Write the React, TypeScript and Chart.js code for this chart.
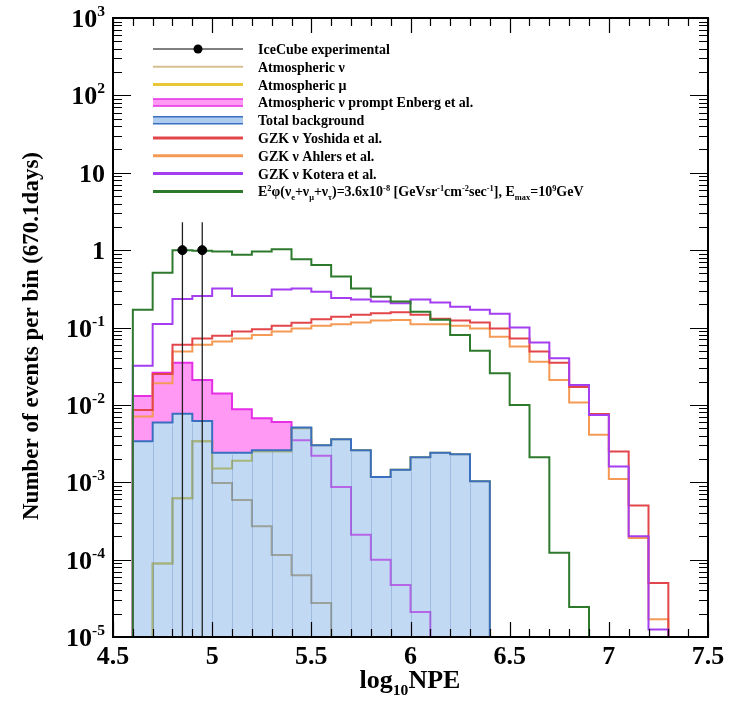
import { useEffect, useRef } from 'react';
import { Chart, registerables } from 'chart.js';

Chart.register(...registerables);

// Lower edges of the log10(NPE) bins (width 0.1)
const BIN_LOW = [
  4.5, 4.6, 4.7, 4.8, 4.9, 5.0, 5.1, 5.2, 5.3, 5.4,
  5.5, 5.6, 5.7, 5.8, 5.9, 6.0, 6.1, 6.2, 6.3, 6.4,
  6.5, 6.6, 6.7, 6.8, 6.9, 7.0, 7.1, 7.2, 7.3, 7.4,
];
const BIN_WIDTH = 0.1;

// Events per bin (670.1 days); 0 = empty bin
const E2_FLUX = [0, 0.17, 0.51, 1.0, 0.98, 0.96, 0.87, 0.96, 1.03, 0.76, 0.64, 0.455, 0.32, 0.25, 0.216, 0.16, 0.126, 0.08, 0.05, 0.0256, 0.01, 0.0021, 1.23e-4, 2.45e-5, 0, 0, 0, 0, 0, 0];
const GZK_KOTERA = [0, 0.032, 0.111, 0.234, 0.256, 0.32, 0.256, 0.256, 0.31, 0.32, 0.29, 0.24, 0.23, 0.216, 0.206, 0.23, 0.21, 0.186, 0.17, 0.15, 0.1, 0.064, 0.04, 0.018, 0.0074, 0.0016, 2.0e-4, 1.25e-5, 0, 0];
const GZK_YOSHIDA = [0, 0.0086, 0.025, 0.06, 0.072, 0.078, 0.089, 0.095, 0.105, 0.115, 0.128, 0.138, 0.146, 0.153, 0.157, 0.146, 0.13, 0.123, 0.116, 0.097, 0.072, 0.049, 0.035, 0.017, 0.0076, 0.0025, 5.0e-4, 5.0e-5, 0, 0];
const GZK_AHLERS = [0, 0.0071, 0.019, 0.049, 0.06, 0.066, 0.072, 0.08, 0.089, 0.097, 0.105, 0.11, 0.116, 0.123, 0.125, 0.11, 0.11, 0.105, 0.097, 0.076, 0.057, 0.036, 0.021, 0.0107, 0.0041, 0.0011, 1.9e-4, 1.7e-5, 0, 0];
const ATM_PROMPT = [0, 0.013, 0.026, 0.035, 0.021, 0.014, 0.0088, 0.0067, 0.006, 0.0035, 0.0022, 8.7e-4, 2.1e-4, 1.0e-4, 4.7e-5, 2.1e-5, 0, 0, 0, 0, 0, 0, 0, 0, 0, 0, 0, 0, 0, 0];
const TOTAL_BG = [0, 0.0034, 0.0059, 0.0077, 0.0062, 0.0024, 0.0024, 0.0026, 0.0026, 0.0051, 0.003, 0.0036, 0.0026, 0.00117, 0.00145, 0.0021, 0.0024, 0.0023, 0.00103, 0, 0, 0, 0, 0, 0, 0, 0, 0, 0, 0];
const ATM_NU = [0, 0, 8.9e-5, 6.2e-4, 0.0034, 9.8e-4, 5.9e-4, 2.7e-4, 1.15e-4, 6.3e-5, 2.75e-5, 0, 0, 0, 0, 0, 0, 0, 0, 0, 0, 0, 0, 0, 0, 0, 0, 0, 0, 0];
const ATM_MU = [0, 0, 8.9e-5, 6.2e-4, 0.0034, 0.0015, 0.0019, 0.0025, 0.0025, 0.005, 0.003, 0.0036, 0.0026, 0.00117, 0.00145, 0.0021, 0.0024, 0.0023, 0.00103, 0, 0, 0, 0, 0, 0, 0, 0, 0, 0, 0];

// Observed events with upper error
const DATA_X = [4.85, 4.95];
const DATA_Y = [1, 1];
const DATA_HI = [2.3, 2.3];

// Axis ticks
const X_TICKS = [4.5, 5, 5.5, 6, 6.5, 7, 7.5];
const X_TICK_LABELS = ['4.5', '5', '5.5', '6', '6.5', '7', '7.5'];
const Y_EXPONENTS = [3, 2, 1, 0, -1, -2, -3, -4, -5];

const X_MIN = 4.5;
const X_MAX = 7.5;
const Y_MIN = 1e-5;
const Y_MAX = 1e3;
const FLOOR = 1e-7;

const FONT = '"Liberation Serif", "Times New Roman", serif';

const C_GREEN = '#2d7a2d';
const C_PURPLE = '#a43ef0';
const C_RED = '#e3464a';
const C_ORANGE = '#f59a55';
const C_BLUE = '#3a6fc0';
const C_BLUE_FILL = 'rgba(120,170,230,0.45)';
const C_MAGENTA = '#e62ee6';
const C_PINK = 'rgba(255,110,240,0.7)';
const C_MU = '#cfc020';
const C_NU = '#b89a5e';

type Seg = [string, 'n' | 'sup' | 'sub'];

type LegendItem = {
  label: Seg[];
  kind: 'marker' | 'line' | 'band';
  color: string;
  fill?: string;
  width?: number;
};

const LEGEND: LegendItem[] = [
  { label: [['IceCube experimental', 'n']], kind: 'marker', color: '#000' },
  { label: [['Atmospheric ν', 'n']], kind: 'line', color: '#d6bf90', width: 2 },
  { label: [['Atmospheric μ', 'n']], kind: 'line', color: '#e8c838', width: 3 },
  { label: [['Atmospheric ν prompt Enberg et al.', 'n']], kind: 'band', color: C_MAGENTA, fill: C_PINK },
  { label: [['Total background', 'n']], kind: 'band', color: C_BLUE, fill: 'rgba(120,170,230,0.6)' },
  { label: [['GZK ν Yoshida et al.', 'n']], kind: 'line', color: C_RED, width: 3 },
  { label: [['GZK ν Ahlers et al.', 'n']], kind: 'line', color: C_ORANGE, width: 3 },
  { label: [['GZK ν Kotera et al.', 'n']], kind: 'line', color: C_PURPLE, width: 3 },
  {
    label: [
      ['E', 'n'], ['2', 'sup'], ['φ(ν', 'n'], ['e', 'sub'], ['+ν', 'n'], ['μ', 'sub'], ['+ν', 'n'], ['τ', 'sub'],
      [')=3.6x10', 'n'], ['-8', 'sup'], [' [GeVsr', 'n'], ['-1', 'sup'], ['cm', 'n'], ['-2', 'sup'],
      ['sec', 'n'], ['-1', 'sup'], ['], E', 'n'], ['max', 'sub'], ['=10', 'n'], ['9', 'sup'], ['GeV', 'n'],
    ],
    kind: 'line', color: C_GREEN, width: 3,
  },
];

function histPoints(vals: number[]) {
  const pts = vals.map((v, i) => ({ x: BIN_LOW[i], y: v > 0 ? v : FLOOR }));
  pts.push({ x: BIN_LOW[BIN_LOW.length - 1] + BIN_WIDTH, y: FLOOR });
  return pts;
}

function drawRich(ctx: CanvasRenderingContext2D, segs: Seg[], x: number, y: number, size: number, align: 'left' | 'right' | 'center') {
  const small = size * 0.6;
  const widths = segs.map(([t, k]) => {
    ctx.font = `bold ${k === 'n' ? size : small}px ${FONT}`;
    return ctx.measureText(t).width;
  });
  const total = widths.reduce((a, b) => a + b, 0);
  let cx = align === 'left' ? x : align === 'right' ? x - total : x - total / 2;
  ctx.textAlign = 'left';
  ctx.textBaseline = 'alphabetic';
  segs.forEach(([t, k], i) => {
    ctx.font = `bold ${k === 'n' ? size : small}px ${FONT}`;
    const dy = k === 'sup' ? -size * 0.42 : k === 'sub' ? size * 0.28 : 0;
    ctx.fillText(t, cx, y + dy);
    cx += widths[i];
  });
}

const TOTAL_INDEX = 7;

// Faint vertical strokes inside the filled total-background histogram
const hatchPlugin = {
  id: 'bgHatch',
  afterDatasetDraw(chart: any, args: any) {
    if (args.index !== TOTAL_INDEX) return;
    const { ctx, chartArea: a, scales } = chart;
    ctx.save();
    ctx.beginPath();
    ctx.rect(a.left, a.top, a.right - a.left, a.bottom - a.top);
    ctx.clip();
    ctx.strokeStyle = 'rgba(70,110,180,0.28)';
    ctx.lineWidth = 1;
    for (let i = 1; i < TOTAL_BG.length; i++) {
      const lo = Math.min(TOTAL_BG[i - 1], TOTAL_BG[i]);
      if (lo <= 0) continue;
      const px = Math.round(scales.x.getPixelForValue(BIN_LOW[i])) + 0.5;
      ctx.beginPath();
      ctx.moveTo(px, a.bottom);
      ctx.lineTo(px, scales.y.getPixelForValue(lo) + 2);
      ctx.stroke();
    }
    ctx.restore();
  },
};

// Frame, inward ticks on all four sides, tick labels, axis titles and legend
const framePlugin = {
  id: 'frameAxes',
  afterDraw(chart: any) {
    const { ctx, chartArea: a, scales } = chart;
    const sx = scales.x;
    const sy = scales.y;
    ctx.save();
    ctx.strokeStyle = '#000';
    ctx.fillStyle = '#000';
    ctx.lineWidth = 1.2;

    // x ticks every 0.1, major every 0.5
    for (let k = 0; k <= 30; k++) {
      const v = X_MIN + k * 0.1;
      const px = Math.round(sx.getPixelForValue(v)) + 0.5;
      const len = k % 5 === 0 ? 15 : 8;
      ctx.beginPath();
      ctx.moveTo(px, a.bottom);
      ctx.lineTo(px, a.bottom - len);
      ctx.moveTo(px, a.top);
      ctx.lineTo(px, a.top + len);
      ctx.stroke();
    }
    // y ticks: decades and 2..9 subdivisions
    for (let e = -5; e <= 3; e++) {
      for (let m = 1; m <= 9; m++) {
        const v = m * Math.pow(10, e);
        if (v > Y_MAX * 1.0001) break;
        const py = Math.round(sy.getPixelForValue(v)) + 0.5;
        const len = m === 1 ? 18 : 9;
        ctx.beginPath();
        ctx.moveTo(a.left, py);
        ctx.lineTo(a.left + len, py);
        ctx.moveTo(a.right, py);
        ctx.lineTo(a.right - len, py);
        ctx.stroke();
      }
    }
    // frame
    ctx.lineWidth = 2;
    ctx.strokeRect(a.left, a.top, a.right - a.left, a.bottom - a.top);

    // x tick labels
    ctx.font = `bold 26px ${FONT}`;
    ctx.textAlign = 'center';
    ctx.textBaseline = 'alphabetic';
    X_TICKS.forEach((v, i) => {
      ctx.fillText(X_TICK_LABELS[i], sx.getPixelForValue(v), a.bottom + 27);
    });

    // y tick labels
    Y_EXPONENTS.forEach((e) => {
      const py = sy.getPixelForValue(Math.pow(10, e));
      let segs: Seg[];
      if (e === 0) segs = [['1', 'n']];
      else if (e === 1) segs = [['10', 'n']];
      else segs = [['10', 'n'], [e < 0 ? `-${-e}` : `${e}`, 'sup']];
      drawRich(ctx, segs, a.left - 8, py + 9, 26, 'right');
    });

    // x title
    drawRich(ctx, [['log', 'n'], ['10', 'sub'], ['NPE', 'n']], 410, a.bottom + 51, 26, 'center');

    // y title
    ctx.save();
    ctx.translate(38, 336);
    ctx.rotate(-Math.PI / 2);
    ctx.font = `bold 23px ${FONT}`;
    ctx.textAlign = 'center';
    ctx.textBaseline = 'alphabetic';
    ctx.fillText('Number of events per bin (670.1days)', 0, 0);
    ctx.restore();

    // legend
    const x0 = 153;
    const x1 = 243;
    const tx = 258;
    LEGEND.forEach((it, i) => {
      const yy = 49 + i * 17.8;
      if (it.kind === 'marker') {
        ctx.strokeStyle = it.color;
        ctx.lineWidth = 1.2;
        ctx.beginPath();
        ctx.moveTo(x0, yy);
        ctx.lineTo(x1, yy);
        ctx.stroke();
        ctx.fillStyle = it.color;
        ctx.beginPath();
        ctx.arc((x0 + x1) / 2, yy, 4.5, 0, Math.PI * 2);
        ctx.fill();
      } else if (it.kind === 'line') {
        ctx.strokeStyle = it.color;
        ctx.lineWidth = it.width || 2;
        ctx.beginPath();
        ctx.moveTo(x0, yy);
        ctx.lineTo(x1, yy);
        ctx.stroke();
      } else {
        ctx.fillStyle = it.fill || it.color;
        ctx.fillRect(x0, yy - 3.5, x1 - x0, 7);
        ctx.strokeStyle = it.color;
        ctx.lineWidth = 1.5;
        ctx.beginPath();
        ctx.moveTo(x0, yy - 3.5);
        ctx.lineTo(x1, yy - 3.5);
        ctx.moveTo(x0, yy + 3.5);
        ctx.lineTo(x1, yy + 3.5);
        ctx.stroke();
      }
      ctx.fillStyle = '#000';
      drawRich(ctx, it.label, tx, yy + 5, 14, 'left');
    });
    ctx.restore();
  },
};

function histDataset(label: string, vals: number[], color: string, order: number, extra: any = {}) {
  return {
    label,
    data: histPoints(vals),
    borderColor: color,
    borderWidth: 2,
    stepped: true,
    pointRadius: 0,
    fill: false,
    order,
    ...extra,
  };
}

export default function App() {
  const ref = useRef<HTMLCanvasElement>(null);

  useEffect(() => {
    if (!ref.current) return;
    const datasets: any[] = [
      {
        label: 'IceCube experimental',
        data: DATA_X.map((x, i) => ({ x, y: DATA_Y[i] })),
        showLine: false,
        pointRadius: 4.5,
        pointBackgroundColor: '#000',
        pointBorderColor: '#000',
        order: 0,
      },
      ...DATA_X.map((x, i) => ({
        label: `err${i}`,
        data: [{ x, y: FLOOR }, { x, y: DATA_HI[i] }],
        borderColor: '#222',
        borderWidth: 1.3,
        pointRadius: 0,
        fill: false,
        order: 1,
      })),
      histDataset('E2 flux', E2_FLUX, C_GREEN, 2),
      histDataset('GZK Kotera', GZK_KOTERA, C_PURPLE, 3),
      histDataset('GZK Ahlers', GZK_AHLERS, C_ORANGE, 5),
      histDataset('GZK Yoshida', GZK_YOSHIDA, C_RED, 4),
      histDataset('Total background', TOTAL_BG, C_BLUE, 6, { fill: 'start', backgroundColor: C_BLUE_FILL }),
      histDataset('Atmospheric mu', ATM_MU, C_MU, 7),
      histDataset('Atmospheric nu', ATM_NU, C_NU, 8),
      histDataset('Atmospheric nu prompt', ATM_PROMPT, C_MAGENTA, 9, {
        fill: { target: TOTAL_INDEX, above: C_PINK, below: 'rgba(0,0,0,0)' },
      }),
    ];

    const chart = new Chart(ref.current, {
      type: 'line',
      data: { datasets },
      options: {
        responsive: false,
        animation: false,
        devicePixelRatio: 1,
        layout: { padding: { left: 113, top: 18, right: 27, bottom: 64 } },
        scales: {
          x: { type: 'linear', min: X_MIN, max: X_MAX, display: false },
          y: { type: 'logarithmic', min: Y_MIN, max: Y_MAX, display: false },
        },
        plugins: {
          legend: { display: false },
          tooltip: { enabled: false },
        },
        elements: { line: { tension: 0 } },
      },
      plugins: [hatchPlugin, framePlugin],
    } as any);
    return () => chart.destroy();
  }, []);

  return (
    <div style={{ position: 'fixed', left: 0, top: 0, width: 735, height: 701, background: '#fff' }}>
      <canvas ref={ref} width={735} height={701} style={{ width: 735, height: 701, display: 'block' }} />
    </div>
  );
}
